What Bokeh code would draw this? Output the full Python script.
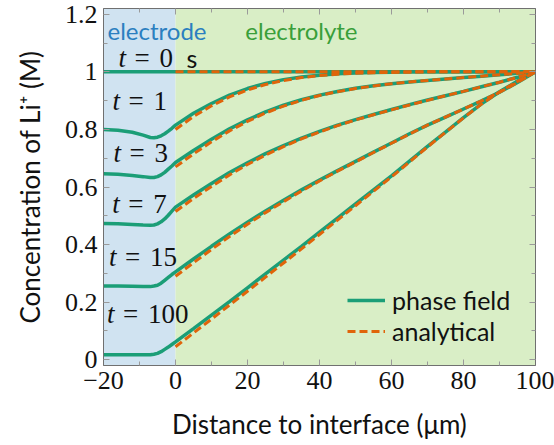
from bokeh.plotting import figure
from bokeh.models import (Range1d, FixedTicker, LinearAxis, BoxAnnotation,
                          Legend, LegendItem)
from bokeh.core.properties import value
from bokeh.embed import file_html
from bokeh.resources import INLINE

# ---------------- data ----------------
times = ["0", "1", "3", "7", "15", "100"]

# electrode side (phase field only)
x_electrode = [-20, -16, -12, -9, -7, -6, -5, -4, -3, -2, -1]
pf_electrode_t0 = [1.0, 1.0, 1.0, 1.0, 1.0, 1.0, 1.0, 1.0, 1.0, 1.0, 1.0]
pf_electrode_t1 = [0.800, 0.797, 0.790, 0.780, 0.772, 0.771, 0.773, 0.778, 0.785, 0.794, 0.804]
pf_electrode_t3 = [0.646, 0.644, 0.640, 0.636, 0.633, 0.633, 0.636, 0.642, 0.651, 0.662, 0.673]
pf_electrode_t7 = [0.473, 0.472, 0.470, 0.468, 0.467, 0.468, 0.472, 0.479, 0.489, 0.502, 0.516]
pf_electrode_t15 = [0.256, 0.256, 0.255, 0.254, 0.254, 0.256, 0.259, 0.266, 0.276, 0.286, 0.296]
pf_electrode_t100 = [0.017, 0.017, 0.017, 0.017, 0.017, 0.019, 0.022, 0.028, 0.036, 0.044, 0.053]

# electrolyte side
x_electrolyte = [0, 5, 10, 15, 20, 25, 30, 35, 40, 45, 50,
                 55, 60, 65, 70, 75, 80, 85, 90, 95, 100]

pf_electrolyte_t0 = [1.0] * 21
pf_electrolyte_t1 = [0.815, 0.856, 0.890, 0.919, 0.942, 0.960, 0.973, 0.982, 0.988, 0.993, 0.996,
                     0.998, 0.999, 1.0, 1.0, 1.0, 1.0, 1.0, 1.0, 1.0, 1.0]
pf_electrolyte_t3 = [0.685, 0.727, 0.766, 0.802, 0.833, 0.861, 0.884, 0.903, 0.919, 0.932, 0.943,
                     0.952, 0.959, 0.965, 0.970, 0.975, 0.980, 0.985, 0.990, 0.995, 1.0]
pf_electrolyte_t7 = [0.530, 0.572, 0.612, 0.650, 0.684, 0.716, 0.744, 0.770, 0.793, 0.815, 0.834,
                     0.852, 0.869, 0.886, 0.902, 0.917, 0.932, 0.948, 0.964, 0.981, 1.0]
pf_electrolyte_t15 = [0.305, 0.350, 0.394, 0.437, 0.478, 0.517, 0.554, 0.590, 0.624, 0.657, 0.689,
                      0.721, 0.753, 0.785, 0.815, 0.843, 0.871, 0.899, 0.929, 0.963, 1.0]
pf_electrolyte_t100 = [0.062, 0.108, 0.155, 0.202, 0.250, 0.298, 0.346, 0.394, 0.443, 0.492, 0.541,
                       0.590, 0.639, 0.690, 0.741, 0.791, 0.841, 0.889, 0.931, 0.968, 1.0]

an_t0 = [1.0] * 21
an_t1 = [0.800, 0.845, 0.882, 0.913, 0.937, 0.956, 0.970, 0.980, 0.987, 0.992, 0.995,
         0.997, 0.998, 0.999, 1.0, 1.0, 1.0, 1.0, 1.0, 1.0, 1.0]
an_t3 = [0.670, 0.715, 0.757, 0.795, 0.828, 0.857, 0.881, 0.901, 0.918, 0.931, 0.942,
         0.951, 0.959, 0.965, 0.970, 0.975, 0.980, 0.985, 0.990, 0.995, 1.0]
an_t7 = [0.515, 0.560, 0.602, 0.642, 0.678, 0.711, 0.740, 0.767, 0.791, 0.813, 0.833,
         0.851, 0.868, 0.885, 0.901, 0.917, 0.932, 0.948, 0.964, 0.981, 1.0]
an_t15 = [0.290, 0.337, 0.383, 0.428, 0.471, 0.511, 0.549, 0.586, 0.621, 0.655, 0.687,
          0.720, 0.752, 0.784, 0.815, 0.843, 0.871, 0.899, 0.929, 0.963, 1.0]
an_t100 = [0.045, 0.093, 0.141, 0.190, 0.238, 0.287, 0.336, 0.385, 0.435, 0.485, 0.535,
           0.585, 0.635, 0.687, 0.739, 0.790, 0.840, 0.888, 0.930, 0.967, 1.0]

pf_electrode = [pf_electrode_t0, pf_electrode_t1, pf_electrode_t3,
                pf_electrode_t7, pf_electrode_t15, pf_electrode_t100]
pf_electrolyte = [pf_electrolyte_t0, pf_electrolyte_t1, pf_electrolyte_t3,
                  pf_electrolyte_t7, pf_electrolyte_t15, pf_electrolyte_t100]
analytical = [an_t0, an_t1, an_t3, an_t7, an_t15, an_t100]

# region edges: electrode | electrolyte
region_edges = [-20, 0, 100]
region_names = ["electrode", "electrolyte"]
region_label_x = [-18.9, 19.4]
region_label_y = [1.145, 1.145]

# time labels (vertical centres)
label_x = [-15.8, -17.5, -17.2, -17.6, -18.5, -19.0]
label_y = [1.047, 0.897, 0.717, 0.542, 0.357, 0.159]

x_ticks = [-20, 0, 20, 40, 60, 80, 100]
x_tick_labels = ["\u221220", "0", "20", "40", "60", "80", "100"]
x_minor = [-10, 10, 30, 50, 70, 90]
y_ticks = [0, 0.2, 0.4, 0.6, 0.8, 1.0, 1.2]
y_tick_labels = ["0", "0.2", "0.4", "0.6", "0.8", "1", "1.2"]
y_minor = [0.1, 0.3, 0.5, 0.7, 0.9, 1.1]

# ---------------- styles ----------------
TEAL = "#1b9e77"
ORANGE = "#e0640a"
BLUE_BG = "#d0e3f1"
GREEN_BG = "#d9eec6"
BLUE_TXT = "#2b7fc0"
GREEN_TXT = "#3a9f3a"
SERIF = "Liberation Serif"
SANS = "Lato"

p = figure(width=554, height=445, x_range=Range1d(-20, 100),
           y_range=Range1d(-0.02, 1.22), output_backend="svg",
           toolbar_location=None)
p.min_border_left = 103
p.min_border_right = 19
p.min_border_top = 8
p.min_border_bottom = 80
p.grid.visible = False
p.outline_line_color = "#707070"
p.background_fill_color = "white"

p.add_layout(BoxAnnotation(left=region_edges[0], right=region_edges[1],
                           fill_color=BLUE_BG, fill_alpha=1.0, line_alpha=0,
                           level="underlay"))
p.add_layout(BoxAnnotation(left=region_edges[1], right=region_edges[2],
                           fill_color=GREEN_BG, fill_alpha=1.0, line_alpha=0,
                           level="underlay"))

# axes
p.add_layout(LinearAxis(), "above")
p.add_layout(LinearAxis(), "right")
for ax in p.xaxis:
    ax.ticker = FixedTicker(ticks=x_ticks, minor_ticks=x_minor)
    ax.major_label_overrides = {t: l for t, l in zip(x_ticks, x_tick_labels)}
for ax in p.yaxis:
    ax.ticker = FixedTicker(ticks=y_ticks, minor_ticks=y_minor)
    ax.major_label_overrides = {t: l for t, l in zip(y_ticks, y_tick_labels)}
for ax in p.axis:
    ax.major_tick_in = 6
    ax.major_tick_out = 0
    ax.minor_tick_in = 4
    ax.minor_tick_out = 0
    ax.major_tick_line_color = "#9a9a9a"
    ax.minor_tick_line_color = "#9a9a9a"
    ax.axis_line_color = "#707070"
    ax.major_label_text_font = SERIF
    ax.major_label_text_font_size = "26px"
    ax.major_label_text_color = "#111111"
for ax in p.above + p.right:
    if isinstance(ax, LinearAxis):
        ax.major_label_text_font_size = "0px"
        ax.major_label_standoff = 0

bx = p.below[0]
bx.axis_label = "Distance to interface (\u03bcm)"
bx.major_label_standoff = 6
bx.axis_label_standoff = 16
ly = p.left[0]
ly.axis_label = "Concentration of Li\u207a (M)"
ly.major_label_standoff = 6
ly.axis_label_standoff = 16
for ax in (bx, ly):
    ax.axis_label_text_font = SANS
    ax.axis_label_text_font_size = "26px"
    ax.axis_label_text_font_style = "normal"
    ax.axis_label_text_color = "#111111"

# lines
pf_renderers = []
for el, ly_vals in zip(pf_electrode, pf_electrolyte):
    xs = x_electrode + x_electrolyte
    ys = el + ly_vals
    r = p.line(xs, ys, line_color=TEAL, line_width=3.5)
    pf_renderers.append(r)
an_renderers = []
for an in analytical:
    r = p.line(x_electrolyte, an, line_color=ORANGE, line_width=3.0,
               line_dash="8 4")
    an_renderers.append(r)

# region labels
p.text(x=region_label_x[:1], y=region_label_y[:1], text=region_names[:1],
       text_font=value(SANS), text_font_size="24px", text_color=BLUE_TXT,
       text_baseline="middle")
p.text(x=region_label_x[1:], y=region_label_y[1:], text=region_names[1:],
       text_font=value(SANS), text_font_size="24px", text_color=GREEN_TXT,
       text_baseline="middle")

# time labels
p.text(x=label_x, y=label_y, text=["t"] * len(times), text_font=value(SERIF),
       text_font_style="italic", text_font_size="27px", text_color="#111111",
       text_baseline="middle")
p.text(x=label_x, y=label_y, text=["="] * len(times), text_font=value(SERIF),
       text_font_size="27px", text_color="#111111", text_baseline="middle",
       x_offset=16)
p.text(x=label_x, y=label_y, text=times, text_font=value(SERIF),
       text_font_size="27px", text_color="#111111", text_baseline="middle",
       x_offset=41)
p.text(x=label_x[:1], y=label_y[:1], text=["s"], text_font=value(SANS),
       text_font_size="25px", text_color="#111111", text_baseline="middle",
       x_offset=68)

legend = Legend(items=[LegendItem(label="phase field", renderers=[pf_renderers[0]]),
                       LegendItem(label="analytical", renderers=[an_renderers[0]])],
                location=(239, 14))
legend.background_fill_alpha = 0
legend.border_line_alpha = 0
legend.label_text_font = SANS
legend.label_text_font_size = "25px"
legend.label_text_color = "#111111"
legend.glyph_width = 38
legend.glyph_height = 30
legend.label_height = 30
legend.label_standoff = 7
legend.spacing = 1
legend.padding = 5
legend.margin = 0
p.add_layout(legend, "center")

open("out.html", "w").write(file_html(p, INLINE))
